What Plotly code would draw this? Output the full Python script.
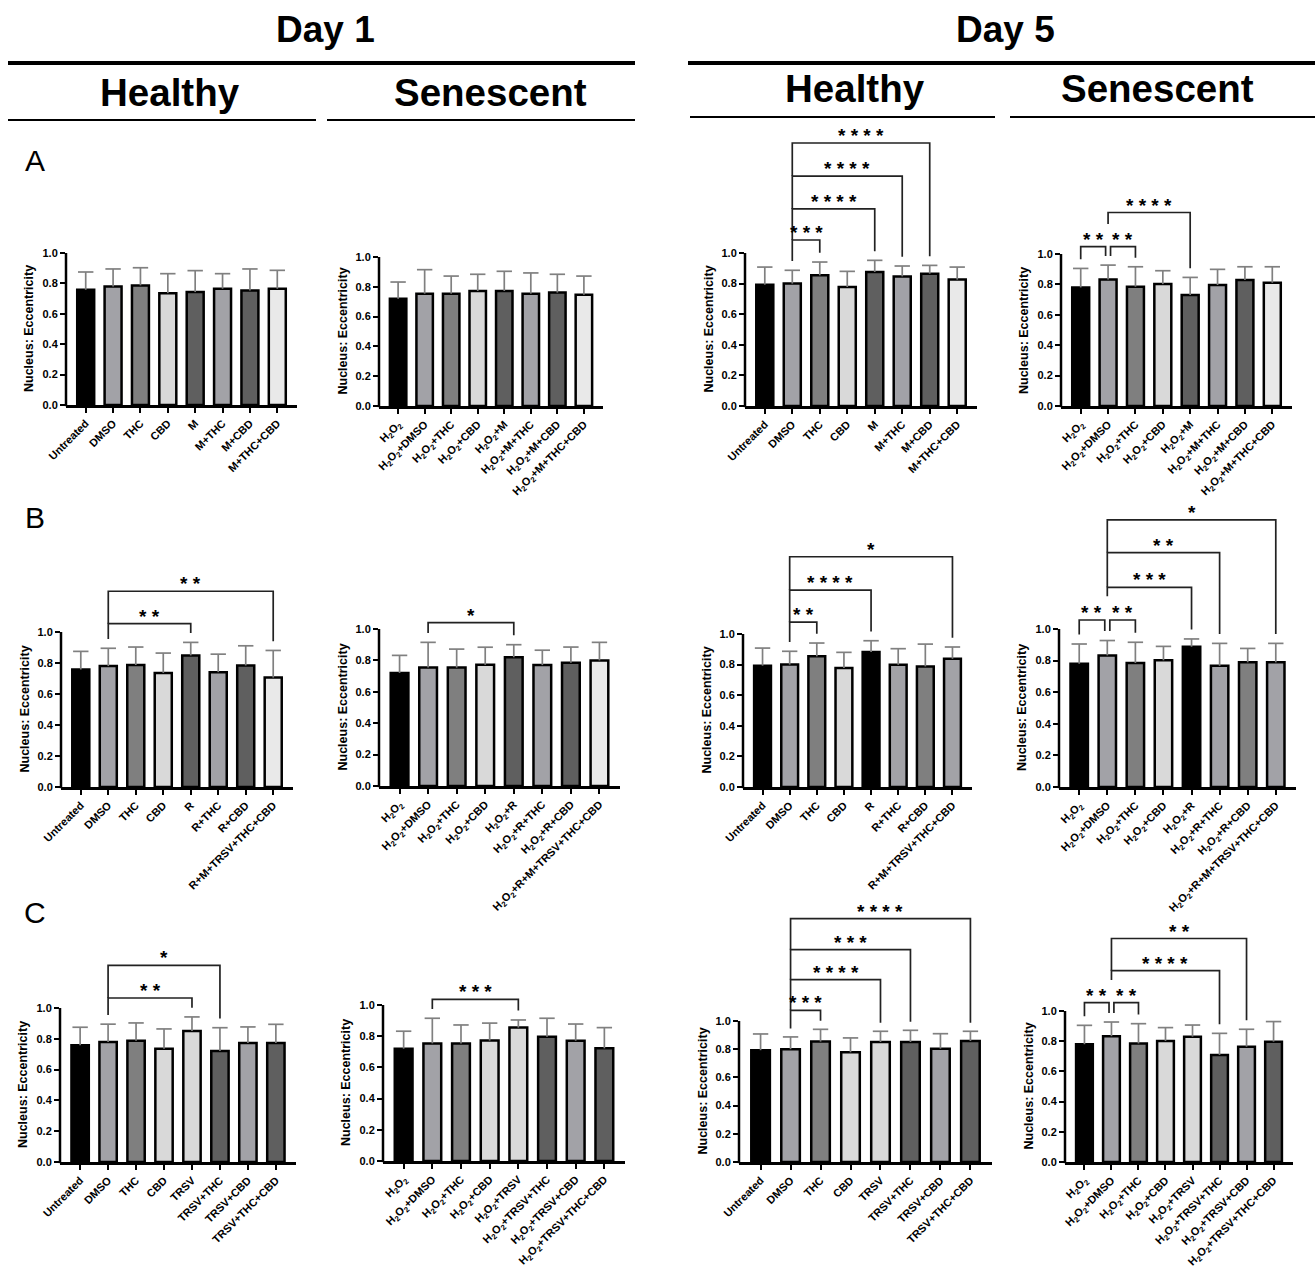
import plotly.graph_objects as go

W, H = 1315, 1270
FONT = "Arial, Liberation Sans, sans-serif"

# ---------------- colours ----------------
BLK, MID, DRK, LGT, DK2, XLT = "#000000", "#a2a2a7", "#7f7f7f", "#d9d9d9", "#5f5f5f", "#e9e9e9"

# ---------------- category labels ----------------
H2 = "H<sub>2</sub>O<sub>2</sub>"
lab_M = ["Untreated", "DMSO", "THC", "CBD", "M", "M+THC", "M+CBD", "M+THC+CBD"]
lab_M_sen = [H2, H2 + "+DMSO", H2 + "+THC", H2 + "+CBD", H2 + "+M", H2 + "+M+THC", H2 + "+M+CBD", H2 + "+M+THC+CBD"]
lab_R = ["Untreated", "DMSO", "THC", "CBD", "R", "R+THC", "R+CBD", "R+M+TRSV+THC+CBD"]
lab_R_sen = [H2, H2 + "+DMSO", H2 + "+THC", H2 + "+CBD", H2 + "+R", H2 + "+R+THC", H2 + "+R+CBD", H2 + "+R+M+TRSV+THC+CBD"]
lab_T = ["Untreated", "DMSO", "THC", "CBD", "TRSV", "TRSV+THC", "TRSV+CBD", "TRSV+THC+CBD"]
lab_T_sen = [H2, H2 + "+DMSO", H2 + "+THC", H2 + "+CBD", H2 + "+TRSV", H2 + "+TRSV+THC", H2 + "+TRSV+CBD", H2 + "+TRSV+THC+CBD"]

# ---------------- values (mean, SD) ----------------
a1_mean = [0.758, 0.780, 0.787, 0.736, 0.743, 0.765, 0.754, 0.765]
a1_sd = [0.117, 0.115, 0.116, 0.128, 0.141, 0.099, 0.141, 0.121]
a2_mean = [0.720, 0.754, 0.754, 0.772, 0.772, 0.754, 0.761, 0.747]
a2_sd = [0.112, 0.161, 0.118, 0.112, 0.132, 0.139, 0.123, 0.125]
a3_mean = [0.793, 0.800, 0.854, 0.778, 0.876, 0.847, 0.865, 0.826]
a3_sd = [0.115, 0.087, 0.087, 0.102, 0.076, 0.068, 0.054, 0.082]
a4_mean = [0.780, 0.833, 0.785, 0.802, 0.730, 0.796, 0.829, 0.811]
a4_sd = [0.125, 0.094, 0.131, 0.088, 0.116, 0.103, 0.087, 0.105]

b1_mean = [0.758, 0.780, 0.787, 0.736, 0.849, 0.741, 0.784, 0.706]
b1_sd = [0.117, 0.115, 0.116, 0.128, 0.084, 0.116, 0.127, 0.175]
b2_mean = [0.720, 0.754, 0.754, 0.772, 0.820, 0.770, 0.785, 0.800]
b2_sd = [0.112, 0.161, 0.118, 0.112, 0.080, 0.095, 0.100, 0.115]
b3_mean = [0.793, 0.800, 0.854, 0.778, 0.882, 0.799, 0.788, 0.838]
b3_sd = [0.115, 0.087, 0.087, 0.102, 0.074, 0.105, 0.146, 0.077]
b4_mean = [0.780, 0.833, 0.785, 0.802, 0.888, 0.767, 0.789, 0.789]
b4_sd = [0.125, 0.094, 0.131, 0.088, 0.049, 0.142, 0.088, 0.120]

c1_mean = [0.758, 0.780, 0.787, 0.736, 0.851, 0.721, 0.773, 0.773]
c1_sd = [0.117, 0.115, 0.116, 0.128, 0.091, 0.151, 0.104, 0.121]
c2_mean = [0.720, 0.754, 0.754, 0.772, 0.855, 0.797, 0.771, 0.722]
c2_sd = [0.112, 0.161, 0.118, 0.112, 0.049, 0.118, 0.107, 0.133]
c3_mean = [0.793, 0.800, 0.854, 0.778, 0.851, 0.851, 0.804, 0.858]
c3_sd = [0.115, 0.087, 0.087, 0.102, 0.076, 0.083, 0.106, 0.069]
c4_mean = [0.780, 0.833, 0.785, 0.802, 0.830, 0.709, 0.764, 0.797]
c4_sd = [0.125, 0.094, 0.131, 0.088, 0.077, 0.143, 0.115, 0.133]

# ---------------- bar colours ----------------
col_M = [BLK, MID, DRK, LGT, DK2, MID, DK2, XLT]
col_R1 = [BLK, MID, DRK, LGT, DK2, MID, DK2, XLT]
col_R5 = [BLK, MID, DRK, LGT, BLK, MID, DRK, MID]
col_T = [BLK, MID, DRK, LGT, LGT, DK2, MID, DK2]

# ---------------- significance brackets (start, end, label, level) ----------------
a3_sig = [(1, 2, "***", 1.085), (1, 4, "****", 1.288), (1, 5, "****", 1.503), (1, 6, "****", 1.719)]
a4_sig = [(0, 1, "**", 1.048), (1, 2, "**", 1.048), (1, 4, "****", 1.273)]
b1_sig = [(1, 4, "**", 1.054), (1, 7, "**", 1.263)]
b2_sig = [(1, 4, "*", 1.04)]
b3_sig = [(1, 2, "**", 1.077), (1, 4, "****", 1.287), (1, 7, "*", 1.505)]
b4_sig = [(0, 1, "**", 1.057), (1, 2, "**", 1.057), (1, 4, "***", 1.264), (1, 5, "**", 1.484), (1, 7, "*", 1.691)]
c1_sig = [(1, 4, "**", 1.065), (1, 5, "*", 1.277)]
c2_sig = [(1, 4, "***", 1.036)]
c3_sig = [(1, 2, "***", 1.076), (1, 4, "****", 1.293), (1, 5, "***", 1.506), (1, 7, "****", 1.726)]
c4_sig = [(0, 1, "**", 1.055), (1, 2, "**", 1.055), (1, 5, "****", 1.267), (1, 6, "**", 1.480)]

# ---------------- panel layout boxes in pixels: (y-axis x, x-axis end, y of 0, y of 1.0) ----------------
panels = [
    dict(box=(66, 297, 405, 253), labels=lab_M, mean=a1_mean, sd=a1_sd, colors=col_M, sig=[]),
    dict(box=(379, 603, 406, 257), labels=lab_M_sen, mean=a2_mean, sd=a2_sd, colors=col_M, sig=[]),
    dict(box=(745, 977, 406, 253), labels=lab_M, mean=a3_mean, sd=a3_sd, colors=col_M, sig=a3_sig),
    dict(box=(1061, 1292, 406, 254), labels=lab_M_sen, mean=a4_mean, sd=a4_sd, colors=col_M, sig=a4_sig),
    dict(box=(61, 293, 787, 632), labels=lab_R, mean=b1_mean, sd=b1_sd, colors=col_R1, sig=b1_sig),
    dict(box=(379, 620, 786, 629), labels=lab_R_sen, mean=b2_mean, sd=b2_sd, colors=col_R1, sig=b2_sig),
    dict(box=(743, 972, 787, 634), labels=lab_R, mean=b3_mean, sd=b3_sd, colors=col_R5, sig=b3_sig),
    dict(box=(1059, 1296, 787, 629), labels=lab_R_sen, mean=b4_mean, sd=b4_sd, colors=col_R5, sig=b4_sig),
    dict(box=(60, 296, 1162, 1008), labels=lab_T, mean=c1_mean, sd=c1_sd, colors=col_T, sig=c1_sig),
    dict(box=(383, 625, 1161, 1005), labels=lab_T_sen, mean=c2_mean, sd=c2_sd, colors=col_T, sig=c2_sig),
    dict(box=(739, 992, 1162, 1021), labels=lab_T, mean=c3_mean, sd=c3_sd, colors=col_T, sig=c3_sig),
    dict(box=(1065, 1293, 1162, 1011), labels=lab_T_sen, mean=c4_mean, sd=c4_sd, colors=col_T, sig=c4_sig),
]

R = 2.0          # y-range top (room for brackets)
XR = [-0.72, 7.72]
PAD = 0.06       # gap between error bar and bracket leg
ERRC = "#808080"
BRC = "#222222"

fig = go.Figure()
layout = dict(template="none", width=W, height=H, autosize=False,
              margin=dict(l=0, r=0, t=0, b=0, pad=0),
              paper_bgcolor="white", plot_bgcolor="rgba(0,0,0,0)",
              font=dict(family=FONT, color="black"), showlegend=False)
shapes, annos = [], []


def px(x):
    return x / W


def py(y):
    return 1 - y / H


for k, p in enumerate(panels):
    i = k + 1
    xs = "" if i == 1 else str(i)
    xa, ya = "x" + xs, "y" + xs
    yx, xe, y0, y1 = p["box"]
    ppu = y0 - y1
    dy0, dy1 = py(y0), py(y0 - R * ppu)
    n = len(p["mean"])
    xpos = list(range(n))
    tops = [m + s for m, s in zip(p["mean"], p["sd"])]

    fig.add_trace(go.Bar(
        x=xpos, y=p["mean"], width=0.62, xaxis=xa, yaxis=ya,
        marker=dict(color=p["colors"], line=dict(color="black", width=2.5)),
        error_y=dict(type="data", array=p["sd"], arrayminus=[0] * n, symmetric=False,
                     color=ERRC, thickness=1.7, width=0),
        hoverinfo="skip"))
    fig.add_trace(go.Scatter(
        x=xpos, y=tops, mode="markers", xaxis=xa, yaxis=ya, cliponaxis=False,
        marker=dict(symbol="line-ew", size=11, color=ERRC, line=dict(color=ERRC, width=1.7)),
        hoverinfo="skip"))

    layout["xaxis" + xs] = dict(
        domain=[px(yx), px(xe)], anchor=ya, range=XR, tickmode="array",
        tickvals=xpos, ticktext=p["labels"], tickangle=-45, automargin=False,
        tickfont=dict(size=11, family=FONT, color="black", weight="bold"),
        showline=True, linecolor="black", linewidth=2.5, ticks="outside",
        ticklen=5, tickwidth=2, tickcolor="black", showgrid=False, zeroline=False,
        fixedrange=True)
    layout["yaxis" + xs] = dict(
        domain=[dy0, dy1], anchor=xa, range=[0, R], tickmode="array",
        tickvals=[0, 0.2, 0.4, 0.6, 0.8, 1.0], automargin=False,
        ticktext=["0.0", "0.2", "0.4", "0.6", "0.8", "1.0"],
        tickfont=dict(size=11, family=FONT, color="black", weight="bold"),
        showline=False, ticks="outside", ticklen=5, tickwidth=2, tickcolor="black",
        showgrid=False, zeroline=False, fixedrange=True)

    # y axis line 0 -> 1.0
    shapes.append(dict(type="line", xref="paper", yref="paper",
                       x0=px(yx), x1=px(yx), y0=dy0 - 1.2 / H, y1=dy0 + (dy1 - dy0) / R,
                       line=dict(color="black", width=2.5)))
    # y axis title
    annos.append(dict(xref="paper", yref="paper", x=px(yx - 37), y=dy0 + 0.5 * (dy1 - dy0) / R,
                      text="Nucleus: Eccentricity", textangle=-90, showarrow=False,
                      xanchor="center", yanchor="middle",
                      font=dict(size=12.5, family=FONT, color="black", weight="bold")))

    # significance brackets
    sig = p["sig"]
    for (s, e, lab, lev) in sig:
        xs_ = float(s)
        xe_ = float(e)
        for (s2, e2, _l2, lev2) in sig:
            if abs(lev2 - lev) < 1e-9 and (s2, e2) != (s, e):
                if e2 == s:
                    xs_ += 0.09
                if s2 == e:
                    xe_ -= 0.09

        def leg_bottom(idx, left):
            cands = [tops[idx] + PAD]
            for (s2, e2, _l2, lev2) in sig:
                if lev2 < lev - 1e-9 and s2 <= idx <= e2:
                    if left and s2 == idx and s == idx:
                        cands.append(lev2)
                    else:
                        cands.append(lev2 + 0.15)
            return max(cands)

        lb = leg_bottom(s, True)
        rb = leg_bottom(e, False)
        path = f"M {xs_},{lb} L {xs_},{lev} L {xe_},{lev} L {xe_},{rb}"
        shapes.append(dict(type="path", xref=xa, yref=ya, path=path,
                           line=dict(color=BRC, width=1.7)))
        annos.append(dict(xref=xa, yref=ya, x=(xs_ + xe_) / 2, y=lev, text=" ".join(lab),
                          showarrow=False, xanchor="center", yanchor="bottom", yshift=-5,
                          font=dict(size=19, family=FONT, color="black", weight="bold")))

# ---------------- headers ----------------
for (txt, x, y, sz) in [("Day 1", 325, 30, 37), ("Day 5", 1005, 30, 37),
                        ("Healthy", 170, 92, 38.5), ("Senescent", 490, 92, 38.5),
                        ("Healthy", 855, 88, 38.5), ("Senescent", 1157, 88, 38.5)]:
    annos.append(dict(xref="paper", yref="paper", x=px(x), y=py(y), text=txt, showarrow=False,
                      xanchor="center", yanchor="middle",
                      font=dict(size=sz, family=FONT, color="black", weight="bold")))
for (txt, y) in [("A", 160), ("B", 517), ("C", 912)]:
    annos.append(dict(xref="paper", yref="paper", x=px(35), y=py(y), text=txt, showarrow=False,
                      xanchor="center", yanchor="middle",
                      font=dict(size=30, family=FONT, color="black")))
for (x0, x1, y, w) in [(8, 635, 63, 4), (688, 1315, 63, 4),
                       (8, 316, 120, 2), (327, 635, 120, 2),
                       (690, 995, 117, 2), (1010, 1315, 117, 2)]:
    shapes.append(dict(type="line", xref="paper", yref="paper", x0=px(x0), x1=px(x1),
                       y0=py(y), y1=py(y), line=dict(color="black", width=w)))

layout["shapes"] = shapes
layout["annotations"] = annos
fig.update_layout(**layout)

fig.write_html("out.html", config={"displayModeBar": False},
               post_script="document.body.style.margin='0';")
